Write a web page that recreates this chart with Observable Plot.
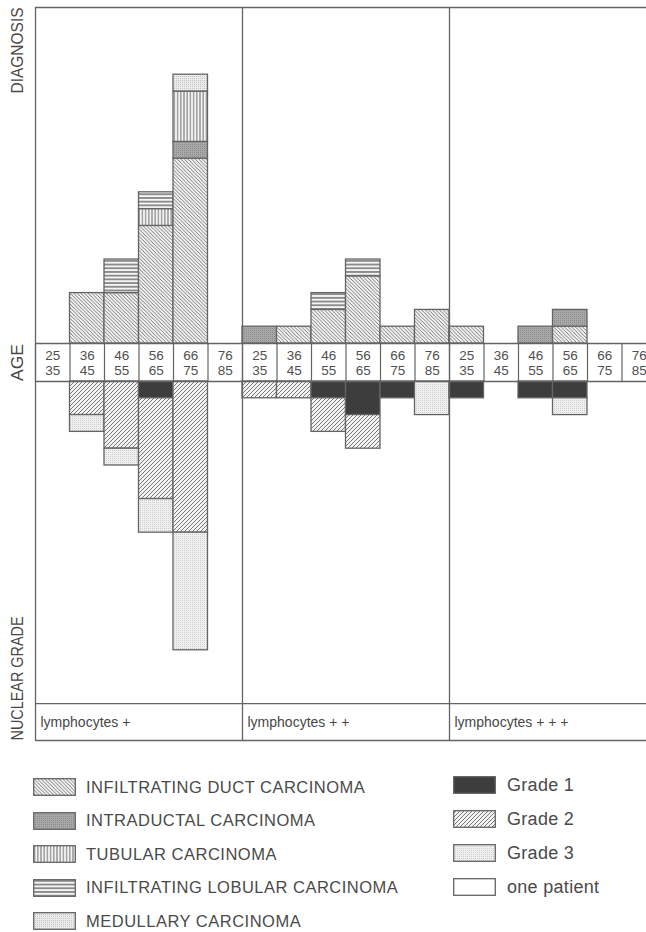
<!DOCTYPE html>
<html><head><meta charset="utf-8">
<script src="https://cdn.jsdelivr.net/npm/d3@7"></script>
<script src="https://cdn.jsdelivr.net/npm/@observablehq/plot@0.6"></script>
<style>
html,body{margin:0;padding:0;background:#fff;overflow:hidden;width:646px;height:932px}
#chart svg{display:block}
#legend{position:relative;width:646px;height:187px;font-family:"Liberation Sans",Arial,sans-serif;color:#4a4a4a}
.item{position:absolute;display:flex;align-items:center;height:18px;white-space:nowrap}
.item svg{display:block}
.left span{font-size:16.5px;letter-spacing:0.5px;margin-left:10px}
.right span{font-size:18px;letter-spacing:0.3px;margin-left:11px}
</style></head><body>
<svg width="0" height="0" style="position:absolute">
<defs>
  <pattern id="p-duct" patternUnits="userSpaceOnUse" width="3.6" height="3.6">
    <rect width="3.6" height="3.6" fill="#f3f3f3"/>
    <path d="M0,0L3.6,3.6M-1,2.6L1,4.6M2.6,-1L4.6,1" stroke="#6a6a6a" stroke-width="0.9"/>
  </pattern>
  <pattern id="p-intra" patternUnits="userSpaceOnUse" width="2" height="2">
    <rect width="2" height="2" fill="#a8a8a8"/>
    <rect width="1" height="1" fill="#8c8c8c"/>
  </pattern>
  <pattern id="p-tub" patternUnits="userSpaceOnUse" width="3.2" height="3.2">
    <rect width="3.2" height="3.2" fill="#f5f5f5"/>
    <path d="M1.6,0V3.2" stroke="#707070" stroke-width="1"/>
  </pattern>
  <pattern id="p-lob" patternUnits="userSpaceOnUse" width="3.7" height="3.7">
    <rect width="3.7" height="3.7" fill="#f5f5f5"/>
    <path d="M0,1.85H3.7" stroke="#5e5e5e" stroke-width="1.3"/>
  </pattern>
  <pattern id="p-med" patternUnits="userSpaceOnUse" width="2" height="2">
    <rect width="2" height="2" fill="#ebebeb"/>
    <rect width="1" height="1" fill="#c4c4c4"/>
  </pattern>
  <pattern id="p-g2" patternUnits="userSpaceOnUse" width="4" height="4">
    <rect width="4" height="4" fill="#f3f3f3"/>
    <path d="M0,4L4,0M-1,1L1,-1M3,5L5,3" stroke="#6a6a6a" stroke-width="0.9"/>
  </pattern>
  <pattern id="p-g3" patternUnits="userSpaceOnUse" width="2" height="2">
    <rect width="2" height="2" fill="#f0f0f0"/>
    <rect width="1" height="1" fill="#cdcdcd"/>
  </pattern>
</defs></svg>
<div id="chart"></div><div id="legend"></div>
<script>
// ---- data ----
const panels = ["lymphocytes +", "lymphocytes + +", "lymphocytes + + +"];
const ageGroups = ["25\n35", "36\n45", "46\n55", "56\n65", "66\n75", "76\n85"];
const axisLabels = ["DIAGNOSIS", "AGE", "NUCLEAR GRADE"];
const diagnosisLabels = ["INFILTRATING DUCT CARCINOMA", "INTRADUCTAL CARCINOMA", "TUBULAR CARCINOMA", "INFILTRATING LOBULAR CARCINOMA", "MEDULLARY CARCINOMA"];
const gradeLabels = ["Grade 1", "Grade 2", "Grade 3"];
const unitLabel = "one patient";

// patient counts: [panel][age group]
const ductCounts        = [[0,3,3,7,11,0],[0,1,2,4,1,2],[1,0,0,1,0,0]];
const intraductalCounts = [[0,0,0,0,1,0],[1,0,0,0,0,0],[0,0,1,1,0,0]];
const tubularCounts     = [[0,0,0,1,3,0],[0,0,0,0,0,0],[0,0,0,0,0,0]];
const lobularCounts     = [[0,0,2,1,0,0],[0,0,1,1,0,0],[0,0,0,0,0,0]];
const medullaryCounts   = [[0,0,0,0,1,0],[0,0,0,0,0,0],[0,0,0,0,0,0]];
const grade1Counts      = [[0,0,0,1,0,0],[0,0,1,2,1,0],[1,0,1,1,0,0]];
const grade2Counts      = [[0,2,4,6,9,0],[1,1,2,2,0,0],[0,0,0,0,0,0]];
const grade3Counts      = [[0,1,1,2,7,0],[0,0,0,0,0,2],[0,0,0,1,0,0]];

const diagnosisCounts = [ductCounts, intraductalCounts, tubularCounts, lobularCounts, medullaryCounts];
const gradeCounts = [grade1Counts, grade2Counts, grade3Counts];

// ---- styles ----
const diagnosisFills = ["url(#p-duct)", "url(#p-intra)", "url(#p-tub)", "url(#p-lob)", "url(#p-med)"];
const gradeFills = ["#3d3d3d", "url(#p-g2)", "url(#p-g3)"];
const lineColor = "#646464";
const textColor = "#474747";
const axisLabelLengths = [86, 37, 124];

// ---- layout (in patient units) ----
const TOP = 20, AGE_ROW = 2.26, GRADE_BOTTOM = -21.43, BOTTOM = -23.63;
const nAges = ageGroups.length;
const nCols = panels.length * nAges;

const topRects = [], bottomRects = [], ageCells = [];
panels.forEach((p, pi) => ageGroups.forEach((a, ai) => {
  const col = pi * nAges + ai;
  ageCells.push({col, label: a});
  let cum = 0;
  diagnosisCounts.forEach((counts, di) => {
    const n = counts[pi][ai];
    if (n > 0) { topRects.push({x1: col, x2: col + 1, y1: cum, y2: cum + n, fill: diagnosisFills[di]}); cum += n; }
  });
  cum = 0;
  gradeCounts.forEach((counts, gi) => {
    const n = counts[pi][ai];
    if (n > 0) { bottomRects.push({x1: col, x2: col + 1, y1: -AGE_ROW - cum, y2: -AGE_ROW - cum - n, fill: gradeFills[gi]}); cum += n; }
  });
}));

const font = "Liberation Sans, Arial, sans-serif";
const plot = Plot.plot({
  width: 646, height: 745,
  marginLeft: 35, marginRight: -10, marginTop: 7, marginBottom: 5,
  x: {domain: [0, nCols], axis: null},
  y: {domain: [BOTTOM, TOP], axis: null},
  color: {type: "identity"},
  style: {fontFamily: font, background: "transparent", color: textColor},
  marks: [
    Plot.rect(topRects, {x1: "x1", x2: "x2", y1: "y1", y2: "y2", fill: "fill", stroke: lineColor, strokeWidth: 1.3}),
    Plot.rect(bottomRects, {x1: "x1", x2: "x2", y1: "y1", y2: "y2", fill: "fill", stroke: lineColor, strokeWidth: 1.3}),
    Plot.ruleY([TOP, 0, -AGE_ROW, GRADE_BOTTOM, BOTTOM], {x1: 0, x2: nCols, stroke: lineColor, strokeWidth: 1.3}),
    Plot.ruleX(d3.range(panels.length + 1).map(i => i * nAges), {y1: BOTTOM, y2: TOP, stroke: lineColor, strokeWidth: 1.3}),
    Plot.ruleX(d3.range(nCols + 1), {y1: 0, y2: -AGE_ROW, stroke: lineColor, strokeWidth: 1.2}),
    Plot.text(ageCells, {x: d => d.col + 0.5, y: -AGE_ROW / 2, text: "label", fontSize: 13.5, lineHeight: 1.12, fill: "#505050"}),
    Plot.text(panels, {x: (d, i) => i * nAges, y: (GRADE_BOTTOM + BOTTOM) / 2, text: d => d, textAnchor: "start", dx: 5, fontSize: 14, fill: textColor}),
    Plot.text([axisLabels[0]], {frameAnchor: "left", y: TOP, text: d => d, rotate: -90, textAnchor: "end", dx: -18, dy: 0, fontSize: 16, fill: textColor}),
    Plot.text([axisLabels[1]], {frameAnchor: "left", y: -AGE_ROW / 2, text: d => d, rotate: -90, textAnchor: "middle", dx: -18, fontSize: 16, fill: textColor}),
    Plot.text([axisLabels[2]], {frameAnchor: "left", y: BOTTOM, text: d => d, rotate: -90, textAnchor: "start", dx: -18, fontSize: 16, fill: textColor})
  ]
});
document.getElementById("chart").appendChild(plot);

// condensed look for the rotated side labels
d3.select(plot).selectAll("text").each(function() {
  const i = axisLabels.indexOf(this.textContent);
  if (i >= 0) d3.select(this).attr("textLength", axisLabelLengths[i]).attr("lengthAdjust", "spacingAndGlyphs");
});

// ---- legend ----
const legend = d3.select("#legend");
function addItem(cls, left, top, label, fill) {
  const it = legend.append("div").attr("class", "item " + cls).style("left", left + "px").style("top", top + "px");
  const sw = it.append("svg").attr("width", 43).attr("height", 18);
  sw.append("rect").attr("x", 0.7).attr("y", 0.7).attr("width", 41.6).attr("height", 16.6)
    .attr("fill", fill).attr("stroke", lineColor).attr("stroke-width", 1.3);
  it.append("span").text(label);
}
diagnosisLabels.forEach((l, i) => addItem("left", 33, 33 + i * 33.5, l, diagnosisFills[i]));
gradeLabels.concat([unitLabel]).forEach((l, i) => addItem("right", 453, 31 + i * 34, l, i < gradeFills.length ? gradeFills[i] : "#fff"));
</script></body></html>
